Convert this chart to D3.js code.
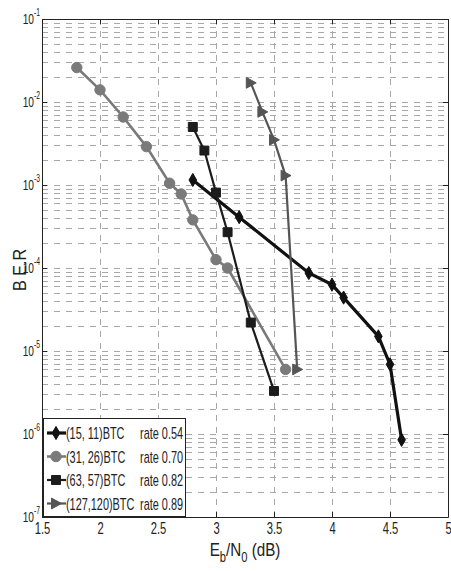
<!DOCTYPE html>
<html>
<head>
<meta charset="utf-8">
<script src="https://cdn.jsdelivr.net/npm/d3@7"></script>
<style>
  body { margin: 0; background: #fff; }
  svg text { font-family: "Liberation Sans", Arial, sans-serif; fill: #222; }
</style>
</head>
<body>
<div id="chart"></div>
<script>
// values
const xTicks = [1.5, 2, 2.5, 3, 3.5, 4, 4.5, 5];
const yExps = [-1, -2, -3, -4, -5, -6, -7];

const s15x = [2.8, 3.2, 3.8, 4.0, 4.1, 4.4, 4.5, 4.6];
const s15y = [1.15e-3, 4.1e-4, 8.7e-5, 6.3e-5, 4.4e-5, 1.5e-5, 6.9e-6, 8.5e-7];

const s31x = [1.8, 2.0, 2.2, 2.4, 2.6, 2.7, 2.8, 3.0, 3.1, 3.6];
const s31y = [2.6e-2, 1.4e-2, 6.6e-3, 2.9e-3, 1.05e-3, 7.8e-4, 3.8e-4, 1.26e-4, 1.0e-4, 6.0e-6];

const s63x = [2.8, 2.9, 3.0, 3.1, 3.3, 3.5];
const s63y = [5e-3, 2.6e-3, 8.1e-4, 2.7e-4, 2.2e-5, 3.3e-6];

const s127x = [3.3, 3.4, 3.5, 3.6, 3.7];
const s127y = [1.7e-2, 7.6e-3, 3.5e-3, 1.3e-3, 6.0e-6];

const names = ["(15, 11)BTC", "(31, 26)BTC", "(63, 57)BTC", "(127,120)BTC"];
const rates = ["rate 0.54", "rate 0.70", "rate 0.82", "rate 0.89"];

const series = [
  { xs: s15x, ys: s15y, color: "#111", width: 3.2, symbol: d3.symbolDiamond, size: 50 },
  { xs: s31x, ys: s31y, color: "#7a7a7a", width: 2.6, symbol: d3.symbolCircle, size: 85 },
  { xs: s63x, ys: s63y, color: "#1c1c1c", width: 2.2, symbol: d3.symbolSquare, size: 80 },
  { xs: s127x, ys: s127y, color: "#555", width: 2.2, symbol: "tri", size: 9 }
];

const W = 451, H = 571;
const NARROW = 0.64; // the reference uses a condensed face
const svg = d3.select("#chart").append("svg").attr("width", W).attr("height", H);

const x = d3.scaleLinear().domain([1.5, 5]).range([42, 448]);
const y = d3.scaleLog().domain([1e-7, 1e-1]).range([517, 19]);

function narrowText(g, tx, ty, size, str, anchor, sx) {
  return g.append("text")
    .attr("transform", `translate(${tx},${ty}) scale(${sx || NARROW},1)`)
    .attr("font-size", size).attr("text-anchor", anchor || "start").text(str);
}

// grid
const grid = svg.append("g").attr("stroke", "#a8a8a8").attr("stroke-width", 1)
  .attr("stroke-dasharray", "6,6").attr("fill", "none");
const minor = [];
for (let e = -7; e < -1; e++) for (let m = 1; m < 10; m++) minor.push(m * Math.pow(10, e));
minor.push(1e-1);
minor.forEach(v => {
  grid.append("line").attr("x1", x(1.5)).attr("x2", x(5))
    .attr("y1", Math.round(y(v)) + 0.5).attr("y2", Math.round(y(v)) + 0.5);
});
xTicks.forEach(v => {
  grid.append("line").attr("y1", y(1e-7)).attr("y2", y(1e-1))
    .attr("x1", Math.round(x(v)) + 0.5).attr("x2", Math.round(x(v)) + 0.5);
});

// axes (ticks inside, mirrored)
const axes = svg.append("g");
axes.append("g").attr("transform", `translate(0,${y(1e-7)})`)
  .call(d3.axisBottom(x).tickValues(xTicks).tickSizeInner(-5).tickSizeOuter(0).tickFormat(d3.format("")))
  .call(g => g.selectAll("text").attr("font-size", 16).attr("dy", "0.9em")
    .attr("transform", "scale(0.7,1)"));
axes.append("g").attr("transform", `translate(0,${y(1e-1)})`)
  .call(d3.axisTop(x).tickValues(xTicks).tickSizeInner(-5).tickSizeOuter(0).tickFormat(""));
axes.append("g").attr("transform", `translate(${x(1.5)},0)`)
  .call(d3.axisLeft(y).tickValues(yExps.map(e => Math.pow(10, e))).tickSizeInner(-5).tickSizeOuter(0).tickFormat(""));
axes.append("g").attr("transform", `translate(${x(5)},0)`)
  .call(d3.axisRight(y).tickValues(yExps.map(e => Math.pow(10, e))).tickSizeInner(-5).tickSizeOuter(0).tickFormat(""));
axes.selectAll("path.domain").attr("stroke", "#222");
axes.selectAll(".tick line").attr("stroke", "#222");

// y tick labels 10^n
yExps.forEach(e => {
  const yy = y(Math.pow(10, e));
  narrowText(svg, 34, yy + 5, 15, "10", "end", 0.68);
  narrowText(svg, 34, yy - 3, 10, String(e), "start", 0.68);
});

// curves
const line = d3.line().x(d => x(d[0])).y(d => y(d[1]));
function drawSymbol(g, s, cx, cy) {
  if (s.symbol === "tri") {
    const r = s.size;
    g.append("path")
      .attr("d", `M${cx + r * 0.6},${cy} L${cx - r * 0.5},${cy - r * 0.6} L${cx - r * 0.5},${cy + r * 0.6}Z`)
      .attr("fill", s.color).attr("stroke", s.color);
  } else {
    g.append("path").attr("d", d3.symbol().type(s.symbol).size(s.size)())
      .attr("transform", `translate(${cx},${cy})`)
      .attr("fill", s.color).attr("stroke", s.color);
  }
}
series.forEach(s => {
  const pts = s.xs.map((v, i) => [v, s.ys[i]]);
  const g = svg.append("g");
  g.append("path").datum(pts).attr("d", line).attr("fill", "none")
    .attr("stroke", s.color).attr("stroke-width", s.width);
  pts.forEach(p => drawSymbol(g, s, x(p[0]), y(p[1])));
});

// legend
const lg = svg.append("g");
lg.append("rect").attr("x", 43.5).attr("y", 418.5).attr("width", 142).attr("height", 98)
  .attr("fill", "#fff").attr("stroke", "#222");
series.forEach((s, i) => {
  const cy = 433 + i * 23.5;
  lg.append("line").attr("x1", 47).attr("x2", 66).attr("y1", cy).attr("y2", cy)
    .attr("stroke", s.color).attr("stroke-width", s.width);
  drawSymbol(lg, s, 56, cy);
  narrowText(lg, 66, cy + 6, 17, names[i]);
  narrowText(lg, 183, cy + 6, 17, rates[i], "end");
});

// axis titles
narrowText(svg.append("g").attr("transform", "rotate(-90)"), -270, 26, 19, "B E.R", "middle", 0.85);
const xl = svg.append("text").attr("transform", `translate(245,556) scale(0.8,1)`)
  .attr("text-anchor", "middle").attr("font-size", 19);
xl.append("tspan").text("E");
xl.append("tspan").attr("dy", 6).attr("font-size", 14).text("b");
xl.append("tspan").attr("dy", -6).text("/N");
xl.append("tspan").attr("dy", 6).attr("font-size", 14).text("0");
xl.append("tspan").attr("dy", -6).text(" (dB)");
</script>
</body>
</html>
